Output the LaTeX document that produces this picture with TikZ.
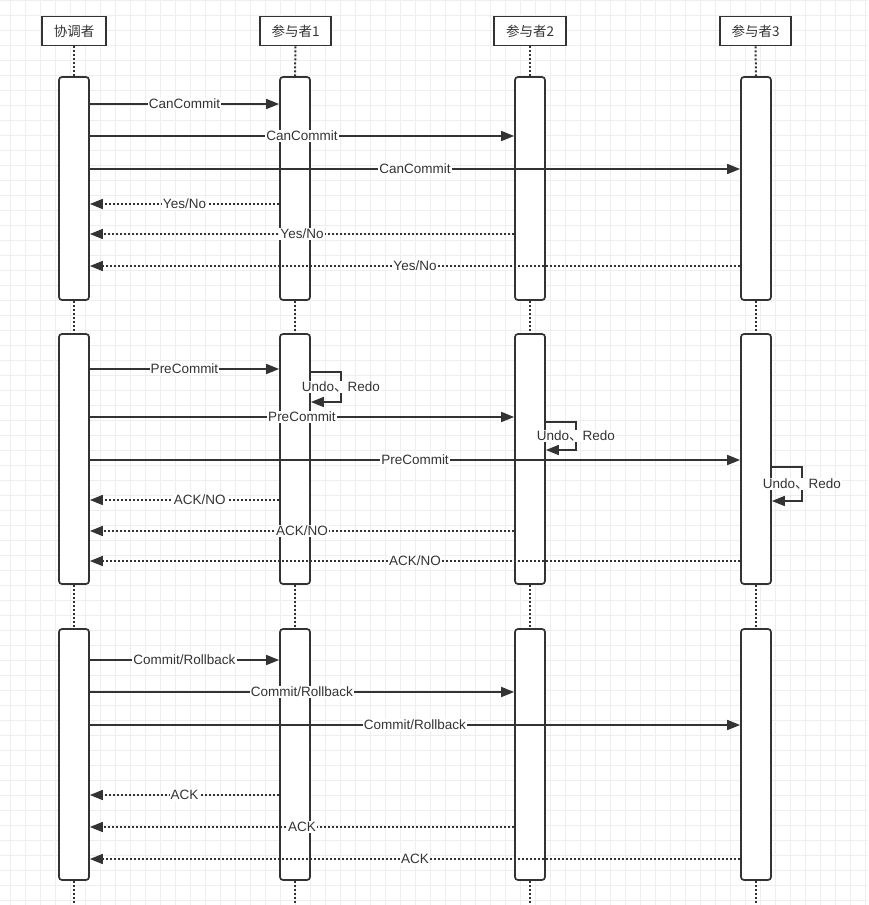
\documentclass[tikz,border=0pt]{standalone}
\usepackage{fontspec}
\setmainfont{Liberation Sans}
\newfontfamily\cjk{Noto Sans CJK SC}
\usepackage{tikz}
\usetikzlibrary{arrows.meta}
\definecolor{inkgray}{HTML}{333333}
\definecolor{gridlight}{HTML}{EEEEEE}
\newcommand{\UndoRedo}{Undo{\cjk 、}Redo}

\begin{document}
\begin{tikzpicture}[
    x=1pt, y=-1pt,
    head/.style={draw=inkgray, line width=1.8pt, fill=white,
                 minimum height=29pt, inner sep=0pt, text=inkgray,
                 font=\cjk\fontsize{13.5}{14}\selectfont},
    act/.style={draw=inkgray, line width=1.7pt, fill=white,
                rounded corners=3pt, minimum width=30pt, inner sep=0pt},
    life/.style={inkgray, line width=2pt, dash pattern=on 2pt off 2pt},
    msg/.style={draw=inkgray, line width=1.6pt,
                -{Triangle[length=13pt, width=10pt]}},
    reply/.style={msg, dash pattern=on 2pt off 2pt},
    lbl/.style={fill=white, inner sep=1pt, text=inkgray,
                font=\fontsize{13.5}{14}\selectfont},
    gridline/.style={gridlight, line width=0.6pt}
  ]

  \useasboundingbox (0,0) rectangle (868,905);
  \fill[white] (0,0) rectangle (868,905);

  % background grid
  \foreach \gx in {10,25,...,865}
    \draw[gridline] (\gx,0) -- (\gx,905);
  \foreach \gy in {0,15,...,900}
    \draw[gridline] (0,\gy) -- (868,\gy);

  % lifeline heads
  \node[head, minimum width=64pt] (hc) at (74,31)    {协调者};
  \node[head, minimum width=71pt] (ha) at (295.5,31) {参与者1};
  \node[head, minimum width=72pt] (hb) at (530,31)   {参与者2};
  \node[head, minimum width=71pt] (hd) at (755.5,31) {参与者3};

  % activation boxes, three phases
  \node[act, minimum height=223pt] (coord1) at (74,188.5) {};
  \node[act, minimum height=250pt] (coord2) at (74,459)   {};
  \node[act, minimum height=251pt] (coord3) at (74,754.5) {};
  \node[act, minimum height=223pt] (partA1) at (295,188.5) {};
  \node[act, minimum height=250pt] (partA2) at (295,459)   {};
  \node[act, minimum height=251pt] (partA3) at (295,754.5) {};
  \node[act, minimum height=223pt] (partB1) at (530,188.5) {};
  \node[act, minimum height=250pt] (partB2) at (530,459)   {};
  \node[act, minimum height=251pt] (partB3) at (530,754.5) {};
  \node[act, minimum height=223pt] (partC1) at (756,188.5) {};
  \node[act, minimum height=250pt] (partC2) at (756,459)   {};
  \node[act, minimum height=251pt] (partC3) at (756,754.5) {};

  \coordinate (bottom) at (0,905);

  % lifelines
  \draw[life] (hc.south) -- (coord1.north);
  \draw[life] (coord1.south) -- (coord2.north);
  \draw[life] (coord2.south) -- (coord3.north);
  \draw[life] (coord3.south) -- (coord3.south |- bottom);
  \draw[life] (ha.south) -- (partA1.north);
  \draw[life] (partA1.south) -- (partA2.north);
  \draw[life] (partA2.south) -- (partA3.north);
  \draw[life] (partA3.south) -- (partA3.south |- bottom);
  \draw[life] (hb.south) -- (partB1.north);
  \draw[life] (partB1.south) -- (partB2.north);
  \draw[life] (partB2.south) -- (partB3.north);
  \draw[life] (partB3.south) -- (partB3.south |- bottom);
  \draw[life] (hd.south) -- (partC1.north);
  \draw[life] (partC1.south) -- (partC2.north);
  \draw[life] (partC2.south) -- (partC3.north);
  \draw[life] (partC3.south) -- (partC3.south |- bottom);

  % phase 1: CanCommit
  \coordinate (r1) at (0,104);
  \coordinate (r2) at (0,136);
  \coordinate (r3) at (0,169);
  \coordinate (r4) at (0,204);
  \coordinate (r5) at (0,234);
  \coordinate (r6) at (0,266);
  \draw[msg] (coord1.east |- r1) -- node[lbl] {CanCommit} (partA1.west |- r1);
  \draw[msg] (coord1.east |- r2) -- node[lbl] {CanCommit} (partB1.west |- r2);
  \draw[msg] (coord1.east |- r3) -- node[lbl] {CanCommit} (partC1.west |- r3);
  \draw[reply] (partA1.west |- r4) -- node[lbl] {Yes/No} (coord1.east |- r4);
  \draw[reply] (partB1.west |- r5) -- node[lbl] {Yes/No} (coord1.east |- r5);
  \draw[reply] (partC1.west |- r6) -- node[lbl] {Yes/No} (coord1.east |- r6);

  % phase 2: PreCommit
  \coordinate (s1) at (0,369);
  \coordinate (s2) at (0,417);
  \coordinate (s3) at (0,460);
  \coordinate (s4) at (0,500);
  \coordinate (s5) at (0,531);
  \coordinate (s6) at (0,561);
  \coordinate (u1) at (0,372);
  \coordinate (u2) at (0,422);
  \coordinate (u3) at (0,467);
  \draw[msg] (coord2.east |- s1) -- node[lbl] {PreCommit} (partA2.west |- s1);
  \draw[msg] (partA2.east |- u1) -- ++(30,0) -- node[lbl] {\UndoRedo} ++(0,30) -- ++(-30,0);
  \draw[msg] (coord2.east |- s2) -- node[lbl] {PreCommit} (partB2.west |- s2);
  \draw[msg] (partB2.east |- u2) -- ++(30,0) -- node[lbl] {\UndoRedo} ++(0,28) -- ++(-30,0);
  \draw[msg] (coord2.east |- s3) -- node[lbl] {PreCommit} (partC2.west |- s3);
  \draw[msg] (partC2.east |- u3) -- ++(30,0) -- node[lbl] {\UndoRedo} ++(0,34) -- ++(-30,0);
  \draw[reply] (partA2.west |- s4) -- node[lbl, pos=0.42] {ACK/NO} (coord2.east |- s4);
  \draw[reply] (partB2.west |- s5) -- node[lbl] {ACK/NO} (coord2.east |- s5);
  \draw[reply] (partC2.west |- s6) -- node[lbl] {ACK/NO} (coord2.east |- s6);

  % phase 3: DoCommit
  \coordinate (t1) at (0,660);
  \coordinate (t2) at (0,692);
  \coordinate (t3) at (0,725);
  \coordinate (t4) at (0,795);
  \coordinate (t5) at (0,827);
  \coordinate (t6) at (0,859);
  \draw[msg] (coord3.east |- t1) -- node[lbl] {Commit/Rollback} (partA3.west |- t1);
  \draw[msg] (coord3.east |- t2) -- node[lbl] {Commit/Rollback} (partB3.west |- t2);
  \draw[msg] (coord3.east |- t3) -- node[lbl] {Commit/Rollback} (partC3.west |- t3);
  \draw[reply] (partA3.west |- t4) -- node[lbl] {ACK} (coord3.east |- t4);
  \draw[reply] (partB3.west |- t5) -- node[lbl] {ACK} (coord3.east |- t5);
  \draw[reply] (partC3.west |- t6) -- node[lbl] {ACK} (coord3.east |- t6);

\end{tikzpicture}
\end{document}
